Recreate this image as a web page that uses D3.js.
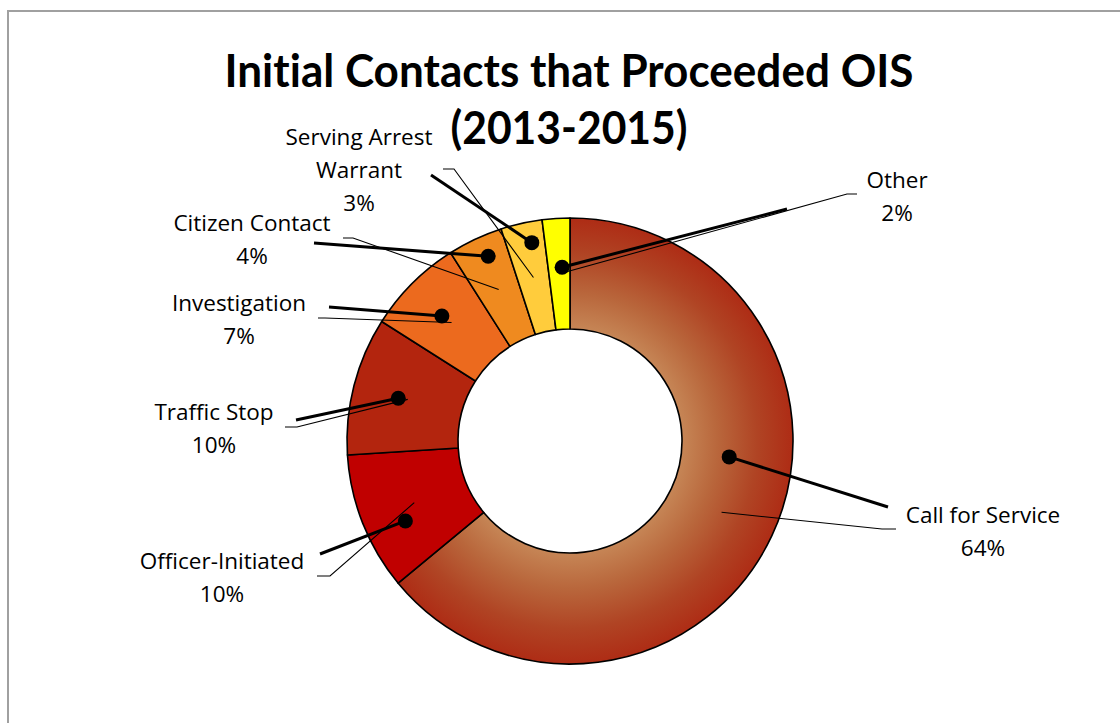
<!DOCTYPE html>
<html>
<head>
<meta charset="utf-8">
<script src="https://cdn.jsdelivr.net/npm/d3@7"></script>
<style>
  html, body { margin: 0; padding: 0; background: #fff; }
  svg { display: block; }
  text { fill: #000; font-variant-ligatures: none; font-feature-settings: "liga" 0, "clig" 0; }
</style>
</head>
<body>
<svg id="chart" width="1120" height="723"></svg>
<script>
// Initial contacts preceding officer-involved shootings, 2013-2015 (percent of total)
const categories = ["Call for Service", "Officer-Initiated", "Traffic Stop", "Investigation",
                    "Citizen Contact", "Serving Arrest Warrant", "Other"];
const shares = [64, 10, 10, 7, 4, 3, 2];
const percentLabels = ["64%", "10%", "10%", "7%", "4%", "3%", "2%"];
const labelLines = [["Call for Service"], ["Officer-Initiated"], ["Traffic Stop"], ["Investigation"],
                    ["Citizen Contact"], ["Serving Arrest", "Warrant"], ["Other"]];
const titleLines = ["Initial Contacts that Proceeded OIS", "(2013-2015)"];

// Slice fills (first slice uses a radial gradient)
const fills = ["url(#callGrad)", "#c00000", "#b3250e", "#ec6a1e", "#ef8a1f", "#ffcc3c", "#ffff00"];

// Label layout: text centre, leader-line anchors, and the marker position (polar, degrees clockwise from top)
const labelLayout = [
  { cx: 983, cy: 515, thin: [[882, 529], [896, 529]], thick: [888, 507], marker: [95.7, 160] },
  { cx: 222, cy: 561, thin: [[330, 576], [317, 576]], thick: [320, 554], marker: [244.1, 183] },
  { cx: 214, cy: 412, thin: [[297, 427], [285, 427]], thick: [296, 420], marker: [284.0, 177] },
  { cx: 239, cy: 303, thin: [[325, 318], [318, 318]], thick: [329, 307], marker: [314.3, 179] },
  { cx: 252, cy: 223, thin: [[353, 238], [343, 238]], thick: [314, 243], marker: [336.1, 202] },
  { cx: 359, cy: 137, thin: [[454, 169], [443, 169]], thick: [431, 175], marker: [349.1, 202] },
  { cx: 897, cy: 180, thin: [[847, 194], [857, 194]], thick: [787, 209], marker: [357.4, 174] }
];
const titleWidths = [689, 237];

const svg = d3.select("#chart");
const W = 1120, H = 723;
const cx = 570, cy = 441, rOuter = 223, rInner = 112;
const lineGap = 33;

// Chart area frame
svg.append("rect")
  .attr("x", 8).attr("y", 11).attr("width", W + 20).attr("height", H + 20)
  .attr("fill", "none").attr("stroke", "#a0a0a0").attr("stroke-width", 2);

// Radial shading for the largest slice, centred on the ring
const defs = svg.append("defs");
const grad = defs.append("radialGradient")
  .attr("id", "callGrad").attr("gradientUnits", "userSpaceOnUse")
  .attr("cx", 0).attr("cy", 0).attr("r", rOuter);
[[0, "#d69c6a"], [0.5, "#c68656"], [0.66, "#b9673c"], [0.84, "#b04424"], [1, "#ae2c15"]]
  .forEach(([o, c]) => grad.append("stop").attr("offset", o).attr("stop-color", c));

// Title
const title = svg.append("g");
titleLines.forEach((t, i) => {
  title.append("text")
    .attr("x", 569).attr("y", 87 + i * 57)
    .attr("text-anchor", "middle")
    .attr("font-family", "Lato, 'Open Sans', sans-serif")
    .attr("font-size", 46).attr("font-weight", "bold")
    .attr("textLength", titleWidths[i])
    .attr("lengthAdjust", "spacingAndGlyphs")
    .text(t);
});

const pie = d3.pie().value(d => d).sort(null);
const arcs = pie(shares);
const arc = d3.arc().innerRadius(rInner).outerRadius(rOuter);

const g = svg.append("g").attr("transform", `translate(${cx},${cy})`);
g.selectAll("path.slice")
  .data(arcs)
  .join("path")
  .attr("class", "slice")
  .attr("d", arc)
  .attr("fill", (d, i) => fills[i])
  .attr("stroke", "#000")
  .attr("stroke-width", 1.6)
  .attr("stroke-linejoin", "round");

const polar = (deg, r) => {
  const a = deg * Math.PI / 180;
  return [cx + r * Math.sin(a), cy - r * Math.cos(a)];
};

// Thin leader lines from slice centroids
const lines = svg.append("g");
arcs.forEach((d, i) => {
  const c = arc.centroid(d);
  const pts = [[cx + c[0], cy + c[1]], ...labelLayout[i].thin];
  lines.append("path")
    .attr("d", d3.line()(pts))
    .attr("fill", "none").attr("stroke", "#000").attr("stroke-width", 1.1);
});

// Heavy leader lines ending in round markers
arcs.forEach((d, i) => {
  const L = labelLayout[i];
  const m = polar(L.marker[0], L.marker[1]);
  lines.append("line")
    .attr("x1", L.thick[0]).attr("y1", L.thick[1])
    .attr("x2", m[0]).attr("y2", m[1])
    .attr("stroke", "#000").attr("stroke-width", 3);
  lines.append("circle")
    .attr("cx", m[0]).attr("cy", m[1]).attr("r", 7.5).attr("fill", "#000");
});

// Category and percentage labels
const labels = svg.append("g");
categories.forEach((c, i) => {
  const L = labelLayout[i];
  const rows = [...labelLines[i], percentLabels[i]];
  rows.forEach((t, j) => {
    labels.append("text")
      .attr("x", L.cx).attr("y", L.cy + j * lineGap)
      .attr("dy", "0.36em")
      .attr("text-anchor", "middle")
      .attr("font-family", "'Open Sans', Lato, sans-serif")
      .attr("font-size", 22.5)
      .text(t);
  });
});
</script>
</body>
</html>
